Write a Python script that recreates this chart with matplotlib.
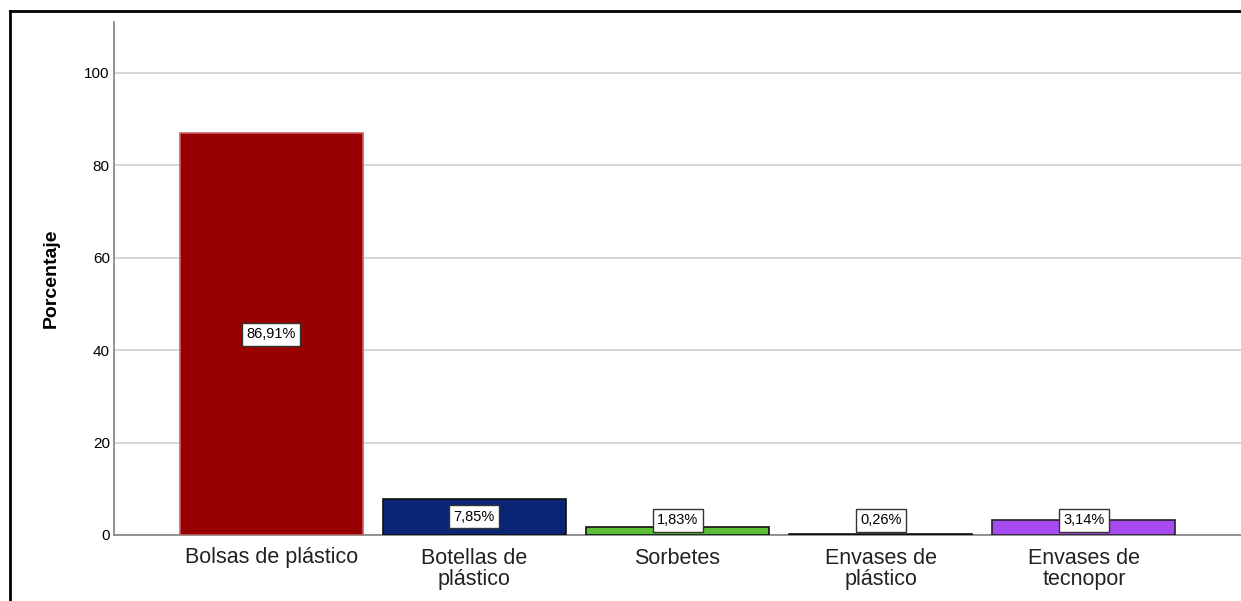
import matplotlib.pyplot as plt
import numpy as np

categorias = ["Bolsas de plástico", "Botellas de\nplástico", "Sorbetes",
              "Envases de\nplástico", "Envases de\ntecnopor"]
porcentajes = [86.91, 7.85, 1.83, 0.26, 3.14]
etiquetas = ["86,91%", "7,85%", "1,83%", "0,26%", "3,14%"]
colores = ["#990000", "#0b2575", "#5cbf38", "#1a1a1a", "#a64bf0"]
bordes = ["#c86060", "#111111", "#111111", "#111111", "#222222"]

plt.rcParams['font.family'] = ['Liberation Sans', 'DejaVu Sans']

fig = plt.figure(figsize=(12.41, 6.01), dpi=100)
ax = fig.add_axes([114 / 1241, 66 / 601, 1 - 114 / 1241, (535 - 22) / 601])

x = np.arange(len(categorias))
ax.bar(x, porcentajes, width=0.9, color=colores, edgecolor=bordes, linewidth=1.2, zorder=3)

for xi, v, t in zip(x, porcentajes, etiquetas):
    ax.text(xi, max(v / 2, 3.2), t, ha="center", va="center", fontsize=10.5, zorder=5,
            bbox=dict(boxstyle="square,pad=0.3", fc="white", ec="#333333", lw=1.0))

ax.set_xlim(-0.773, 4.773)
ax.set_ylim(0, 111)
ax.set_yticks([0, 20, 40, 60, 80, 100])
ax.yaxis.grid(True, color="#d0d0d0", linewidth=1.2, zorder=0)
ax.set_axisbelow(True)
ax.set_xticks(x)
ax.set_xticklabels(categorias, fontsize=15.5, color="#222222", linespacing=1.05)
ax.tick_params(axis="x", length=0, pad=9)
ax.tick_params(axis="y", length=0, labelsize=11, pad=3)
ax.set_ylabel("Porcentaje", fontsize=14, fontweight="bold", labelpad=18)

for s in ["top", "right"]:
    ax.spines[s].set_visible(False)
ax.spines["left"].set_color("#8a8a8a")
ax.spines["bottom"].set_color("#8a8a8a")
ax.spines["left"].set_linewidth(1.3)
ax.spines["bottom"].set_linewidth(1.3)

# marco exterior
fig.add_artist(plt.Line2D([10 / 1241, 10 / 1241], [0, 1 - 11 / 601], color="black", lw=2,
                          transform=fig.transFigure))
fig.add_artist(plt.Line2D([10 / 1241, 1], [1 - 11 / 601, 1 - 11 / 601], color="black", lw=2,
                          transform=fig.transFigure))

fig.savefig("out.png", dpi=100)
